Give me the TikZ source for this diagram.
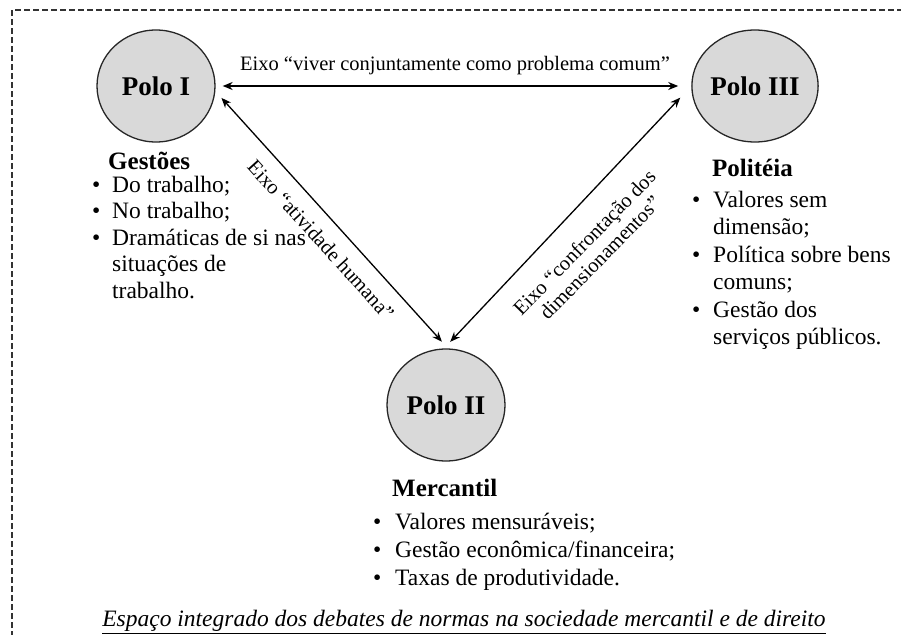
\documentclass[tikz,border=0pt]{standalone}
\usepackage{fontspec}
\setmainfont{Liberation Serif}
\usetikzlibrary{arrows.meta,shapes.geometric}

\tikzset{
  polo/.style={ellipse, draw=black!85, line width=1.3pt, fill=black!15,
    minimum width=118pt, minimum height=112pt, inner sep=0pt,
    font=\fontsize{27}{30}\selectfont\bfseries},
  eixo/.style={line width=1.3pt, {Stealth[length=10pt,width=8pt]}-{Stealth[length=10pt,width=8pt]}},
  eixolabel/.style={font=\fontsize{20.5}{22}\selectfont, inner sep=0pt, align=center},
  head/.style={anchor=base west, inner sep=0pt, font=\fontsize{25}{28}\selectfont\bfseries},
  txt/.style={anchor=base west, inner sep=0pt, font=\fontsize{23.5}{27}\selectfont},
  frame/.style={line width=1.1pt, dash pattern=on 6pt off 3pt, black!80}
}

\begin{document}
\begin{tikzpicture}[x=1pt,y=-1pt]
  \useasboundingbox (0,0) rectangle (901,634);
  \clip (0,0) rectangle (901,634);

  % outer dashed frame (runs past the right and bottom edges)
  \draw[frame] (12,700) -- (12,10) -- (960,10);

  % the three poles
  \node[polo] (p1) at (156,86) {Polo I};
  \node[polo] (p3) at (755,86) {Polo III};
  \node[polo] (p2) at (446,405) {Polo II};

  % axes between the poles
  \draw[eixo, shorten <=7pt, shorten >=13pt] (p1.east) -- (p3.west);
  \draw[eixo, shorten <=9pt, shorten >=9pt] (p1.-5) -- (p2.88);
  \draw[eixo, shorten <=9pt, shorten >=16pt] (p2.92) -- (p3.180);

  % axis labels
  \node[eixolabel] (l13) at (455,66) {Eixo “viver conjuntamente como problema comum”};
  \node[eixolabel, rotate=-47.9] (l12) at (321,240) {Eixo “atividade humana”};
  \node[eixolabel, rotate=45.6] (l23) at (592,250) {Eixo “confrontação dos\\dimensionamentos”};

  % Polo I: Gestões
  \node[head] (g1h) at (108,169) {Gestões};
  \node[txt] (g1b1) at (92,192) {•};
  \node[txt] (g1a) at (112,192) {Do trabalho;};
  \node[txt] (g1b2) at (92,218.5) {•};
  \node[txt] (g1b) at (112,218.5) {No trabalho;};
  \node[txt] (g1b3) at (92,245) {•};
  \node[txt] (g1c) at (112,245) {Dramáticas de si nas};
  \node[txt] (g1d) at (112,271.5) {situações de};
  \node[txt] (g1e) at (112,298) {trabalho.};

  % Polo III: Politéia
  \node[head] (g3h) at (712,176) {Politéia};
  \node[txt] (g3b1) at (692,207) {•};
  \node[txt] (g3a) at (713,207) {Valores sem};
  \node[txt] (g3b) at (713,234.5) {dimensão;};
  \node[txt] (g3b2) at (692,262) {•};
  \node[txt] (g3c) at (713,262) {Política sobre bens};
  \node[txt] (g3d) at (713,289.5) {comuns;};
  \node[txt] (g3b3) at (692,317) {•};
  \node[txt] (g3e) at (713,317) {Gestão dos};
  \node[txt] (g3f) at (713,344.5) {serviços públicos.};

  % Polo II: Mercantil
  \node[head] (g2h) at (392,496) {Mercantil};
  \node[txt] (g2b1) at (373,529) {•};
  \node[txt] (g2a) at (395,529) {Valores mensuráveis;};
  \node[txt] (g2b2) at (373,557) {•};
  \node[txt] (g2b) at (395,557) {Gestão econômica/financeira;};
  \node[txt] (g2b3) at (373,585) {•};
  \node[txt] (g2c) at (395,585) {Taxas de produtividade.};

  % caption
  \node[font=\fontsize{23.5}{26}\selectfont\itshape, inner sep=0pt] (cap) at (464,622)
    {\underline{Espaço integrado dos debates de normas na sociedade mercantil e de direito}};
\end{tikzpicture}
\end{document}
